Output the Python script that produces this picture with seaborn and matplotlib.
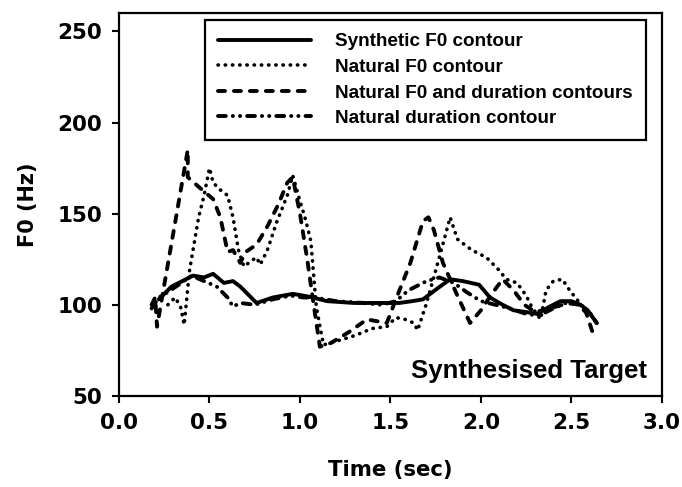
import matplotlib
import matplotlib.pyplot as plt
import pandas as pd
import seaborn as sns

matplotlib.use('Agg')

# Synthetic F0 contour (solid)
synth_t = [0.22, 0.29, 0.35, 0.41, 0.47, 0.52, 0.58, 0.63, 0.67, 0.72, 0.76, 0.85,
           0.96, 1.02, 1.07, 1.15, 1.30, 1.45, 1.55, 1.62, 1.68, 1.76, 1.83, 1.90,
           1.99, 2.05, 2.12, 2.18, 2.25, 2.31, 2.38, 2.44, 2.50, 2.55, 2.59, 2.64]
synth_f0 = [103, 110, 113, 116, 115, 117, 112, 113, 110, 105, 101, 104,
            106, 105, 104, 102, 101, 101, 101, 102, 103, 109, 114, 113,
            111, 104, 100, 97, 96, 95, 99, 102, 102, 100, 97, 90]

# Natural F0 contour (dotted)
nat_t = [0.27, 0.31, 0.34, 0.36, 0.39, 0.44, 0.47, 0.50, 0.52, 0.56, 0.60, 0.63,
         0.66, 0.69, 0.73, 0.76, 0.78, 0.82, 0.87, 0.93, 0.96, 1.00, 1.03, 1.06,
         1.09, 1.13, 1.20, 1.30, 1.40, 1.48, 1.53, 1.58, 1.63, 1.65, 1.70, 1.77,
         1.83, 1.87, 1.95, 2.03, 2.10, 2.14, 2.20, 2.25, 2.28, 2.33, 2.36, 2.40,
         2.45, 2.49, 2.53, 2.58, 2.63]
nat_f0 = [100, 104, 99, 89, 119, 148, 160, 175, 167, 163, 160, 148,
          130, 121, 124, 126, 122, 130, 145, 160, 171, 157, 147, 135,
          99, 78, 80, 83, 87, 88, 93, 92, 90, 86, 101, 126,
          148, 136, 130, 126, 119, 114, 112, 105, 99, 92, 108, 113,
          114, 108, 103, 97, 92]

# Natural F0 and duration contours (dashed)
natdur_t = [0.18, 0.20, 0.21, 0.38, 0.38, 0.46, 0.52, 0.56, 0.60, 0.63, 0.67, 0.70,
            0.76, 0.82, 0.88, 0.93, 0.96, 1.00, 1.04, 1.07, 1.11, 1.17, 1.27, 1.37,
            1.48, 1.53, 1.61, 1.68, 1.71, 1.74, 1.79, 1.87, 1.94, 2.00, 2.06, 2.12,
            2.18, 2.24, 2.30, 2.38, 2.45, 2.52, 2.58, 2.63]
natdur_f0 = [100, 104, 88, 185, 170, 163, 158, 148, 129, 130, 123, 129,
             133, 143, 155, 167, 170, 150, 125, 104, 77, 79, 85, 92,
             90, 103, 123, 146, 148, 141, 123, 105, 90, 97, 106, 114,
             108, 100, 96, 98, 100, 101, 96, 81]

# Natural duration contour (dash-dot-dot)
dur_t = [0.18, 0.22, 0.27, 0.33, 0.40, 0.47, 0.54, 0.60, 0.63, 0.67, 0.75, 0.85,
         0.95, 1.02, 1.08, 1.20, 1.35, 1.45, 1.53, 1.60, 1.70, 1.77, 1.85, 1.92,
         2.00, 2.08, 2.16, 2.25, 2.32, 2.40, 2.47, 2.55, 2.60, 2.64]
dur_f0 = [98, 104, 107, 111, 116, 113, 110, 104, 99, 101, 100, 103,
          105, 104, 104, 102, 101, 100, 102, 108, 113, 115, 112, 107,
          102, 100, 98, 95, 94, 98, 101, 100, 96, 90]

series = [
    ("Synthetic F0 contour", synth_t, synth_f0, "-"),
    ("Natural F0 contour", nat_t, nat_f0, (0, (0.1, 1.9))),
    ("Natural F0 and duration contours", natdur_t, natdur_f0, (0, (1.8, 2.3))),
    ("Natural duration contour", dur_t, dur_f0, (0, (2.0, 1.8, 0.05, 1.8, 0.05, 1.8))),
]

sns.set_style("ticks")
plt.rcParams['font.family'] = ['Liberation Sans', 'DejaVu Sans']
plt.rcParams.update({'text.color': 'black', 'axes.labelcolor': 'black',
                     'xtick.color': 'black', 'ytick.color': 'black'})

fig = plt.figure(figsize=(6.82, 4.87), dpi=100)
ax = fig.add_axes([0.1745, 0.187, 0.796, 0.786])

for name, t, f0, ls in series:
    df = pd.DataFrame({"t": t, "f0": f0})
    lw = 2.6 if name == "Natural F0 contour" else 2.8
    sns.lineplot(data=df, x="t", y="f0", ax=ax, sort=False, estimator=None,
                 color="black", linewidth=lw, linestyle=ls, label=name,
                 dash_capstyle="round", solid_capstyle="round")

ax.set_xlim(0, 3.0)
ax.set_ylim(50, 260)
ax.set_xticks([0.0, 0.5, 1.0, 1.5, 2.0, 2.5, 3.0])
ax.set_xticklabels(["0.0", "0.5", "1.0", "1.5", "2.0", "2.5", "3.0"])
ax.set_yticks([50, 100, 150, 200, 250])
ax.tick_params(direction='out', length=5, width=1.5, labelsize=15.5, pad=7,
               colors='black')
for lab in ax.get_xticklabels() + ax.get_yticklabels():
    lab.set_fontfamily('DejaVu Sans')
    lab.set_fontweight('bold')
for sp in ax.spines.values():
    sp.set_linewidth(1.6)
    sp.set_color('black')

ax.set_xlabel("Time (sec)", fontsize=15.3, fontweight='bold',
              family='DejaVu Sans', labelpad=20, color='black')
ax.set_ylabel("F0 (Hz)", fontsize=15, fontweight='bold', family='DejaVu Sans',
              labelpad=14, color='black')

ax.text(0.972, 0.047, "Synthesised Target", transform=ax.transAxes,
        ha='right', va='baseline', fontsize=18.5, fontweight='bold',
        color='black')

leg = ax.legend(loc='upper left', bbox_to_anchor=(0.158, 0.982),
                borderaxespad=0, prop={'size': 13.6, 'weight': 'bold'},
                handlelength=4.9, handletextpad=1.3, borderpad=0.7,
                labelspacing=0.44, fancybox=False, framealpha=1,
                edgecolor='black')
leg.get_frame().set_linewidth(1.6)
for txt in leg.get_texts():
    txt.set_color('black')

fig.savefig("out.png", dpi=100)
